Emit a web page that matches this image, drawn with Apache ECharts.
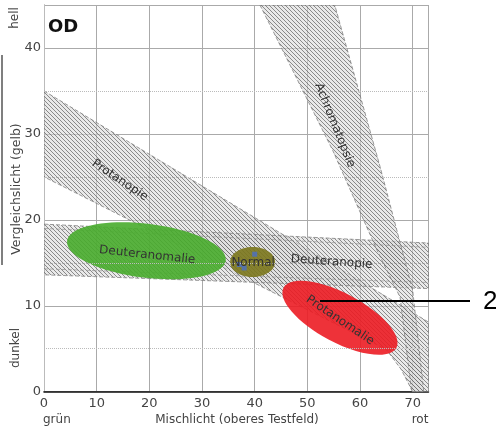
<!DOCTYPE html>
<html><head><meta charset="utf-8">
<script src="https://cdn.jsdelivr.net/npm/echarts@6/dist/echarts.min.js"></script>
<style>html,body{margin:0;padding:0;background:#fff}#c{width:496px;height:428px}</style>
</head><body><div id="c"></div>
<script>
// ---------- data ----------
const xTickLabels = [0, 10, 20, 30, 40, 50, 60, 70];
const yTickLabels = [0, 10, 20, 30, 40];
const yMinorLines = [5, 15, 25, 35];
const xRange = [0, 73];
const yRange = [0, 45];

const bandNames = ['Protanopie', 'Deuteranopie', 'Achromatopsie'];
const protanopieBand = [[0, 35], [73, 8.1], [73, 0], [70, 0], [67.8, 2.6], [65, 4.9], [0, 25]];
const deuteranopieBand = [[0, 19.5], [73, 17.3], [73, 12.0], [0, 13.6]];
const deuteranopieInnerTop = [[0, 19.0], [73, 16.8]];
const deuteranopieInnerBottom = [[0, 14.3], [73, 12.7]];
const achromatopsieBand = [[41, 45], [54.8, 28.1], [63.2, 16.5], [67.6, 11], [69.8, 0], [72.1, 0], [70, 11.8], [63.8, 26.2], [55.2, 45]];

const ellipseNames = ['Deuteranomalie', 'Normal', 'Protanomalie'];
const ellipseCenterX = [19.45, 39.6, 56.2];
const ellipseCenterY = [16.4, 15.1, 8.6];
const ellipseAxisDX = [15.07, 4.27, 10.72];
const ellipseAxisDY = [-1.13, 0, -3.49];

const normalPointsX = [40.0, 37.1, 38.0];
const normalPointsY = [16.0, 14.8, 14.4];

const labelTexts = ['Protanopie', 'Achromatopsie', 'Deuteranomalie', 'Normal', 'Deuteranopie', 'Protanomalie'];
const labelX = [14.4, 55.2, 19.6, 39.7, 54.6, 56.2];
const labelY = [24.6, 31.0, 15.9, 15.0, 15.1, 8.3];

// ---------- styles ----------
const bands = [protanopieBand, deuteranopieBand, achromatopsieBand];
const innerLines = [deuteranopieInnerTop, deuteranopieInnerBottom];
const ellipseMinorPx = [27, 15, 24.5];
const ellipseColors = ['rgba(72,172,44,0.9)', 'rgba(125,120,32,0.92)', 'rgba(236,28,36,0.9)'];
const labelRotDeg = [33.7, 68, 6, 0, 4, 34];
const FONT = '"DejaVu Sans", Verdana, sans-serif';

function hatch() {
  const s = 4, c = document.createElement('canvas');
  c.width = s; c.height = s;
  const g = c.getContext('2d');
  g.fillStyle = 'rgba(215,215,215,0.55)';
  g.fillRect(0, 0, s, s);
  g.strokeStyle = 'rgba(80,80,80,0.7)';
  g.lineWidth = 0.9;
  g.beginPath();
  g.moveTo(0, 0); g.lineTo(s, s);
  g.moveTo(s - 1, -1); g.lineTo(s + 1, 1);
  g.moveTo(-1, s - 1); g.lineTo(1, s + 1);
  g.stroke();
  return c;
}
const pattern = { image: hatch(), repeat: 'repeat' };

const chart = echarts.init(document.getElementById('c'), null, { renderer: 'canvas' });
const tickFmt = arr => v => (arr.indexOf(v) >= 0 ? String(v) : '');

const option = {
  animation: false,
  backgroundColor: '#fff',
  grid: { left: 44, top: 5, right: 67.5, bottom: 36.3, containLabel: false, outerBoundsMode: 'none' },
  xAxis: [{
    type: 'value', min: xRange[0], max: xRange[1], interval: 10,
    axisLine: { show: true, lineStyle: { color: '#999' } },
    axisTick: { show: false },
    axisLabel: { color: '#444', fontSize: 13, fontFamily: FONT, margin: 5, formatter: tickFmt(xTickLabels) },
    splitLine: { show: true, lineStyle: { color: '#aaa', width: 1 } }
  }, {
    type: 'value', position: 'top', min: xRange[0], max: xRange[1],
    axisLine: { show: true, lineStyle: { color: '#111', width: 1.5 } },
    axisTick: { show: false }, axisLabel: { show: false }, splitLine: { show: false }
  }],
  yAxis: [{
    type: 'value', min: yRange[0], max: yRange[1], interval: 10,
    axisLine: { show: true, lineStyle: { color: '#999' } },
    axisTick: { show: false },
    axisLabel: { color: '#444', fontSize: 13, fontFamily: FONT, margin: 3, formatter: tickFmt(yTickLabels) },
    splitLine: { show: true, lineStyle: { color: '#aaa', width: 1 } }
  }, {
    type: 'value', position: 'right', min: yRange[0], max: yRange[1],
    axisLine: { show: true, lineStyle: { color: '#bbb' } },
    axisTick: { show: false }, axisLabel: { show: false }, splitLine: { show: false }
  }],
  series: [
    {
      type: 'line', data: [], z: 1, silent: true,
      markLine: {
        symbol: 'none', silent: true, animation: false, label: { show: false },
        lineStyle: { type: 'dotted', color: '#bbb', width: 1 },
        data: yMinorLines.map(v => ({ yAxis: v }))
      }
    },
    {
      type: 'custom', z: 2, silent: true, clip: true,
      data: bandNames.map((n, i) => [i, 0]),
      renderItem: (params, api) => {
        const pts = bands[api.value(0)].map(p => api.coord(p));
        return {
          type: 'polygon', shape: { points: pts },
          style: { fill: pattern, stroke: '#808080', lineWidth: 0.8, lineDash: [4, 2] }
        };
      }
    },
    {
      type: 'custom', z: 2, silent: true, clip: true,
      data: innerLines.map((l, i) => [i, 0]),
      renderItem: (params, api) => {
        const pts = innerLines[api.value(0)].map(p => api.coord(p));
        return {
          type: 'polyline', shape: { points: pts },
          style: { fill: null, stroke: '#909090', lineWidth: 0.7, lineDash: [4, 2] }
        };
      }
    },
    {
      type: 'custom', z: 3, silent: true, clip: true,
      data: ellipseNames.map((n, i) => [ellipseCenterX[i], ellipseCenterY[i], ellipseAxisDX[i], ellipseAxisDY[i], i]),
      renderItem: (params, api) => {
        const cx = api.value(0), cy = api.value(1), dx = api.value(2), dy = api.value(3), i = api.value(4);
        const c = api.coord([cx, cy]);
        const e = api.coord([cx + dx, cy + dy]);
        const a = Math.hypot(e[0] - c[0], e[1] - c[1]);
        const ang = Math.atan2(e[1] - c[1], e[0] - c[0]);
        return {
          type: 'ellipse', x: c[0], y: c[1], rotation: -ang,
          shape: { cx: 0, cy: 0, rx: a, ry: ellipseMinorPx[i] },
          style: { fill: ellipseColors[i] }
        };
      }
    },
    {
      type: 'scatter', z: 4, silent: true, symbol: 'rect', symbolSize: 5,
      itemStyle: { color: '#4a6fc8' },
      data: normalPointsX.map((x, i) => [x, normalPointsY[i]])
    },
    {
      type: 'custom', z: 5, silent: true, clip: false,
      data: labelTexts.map((t, i) => [labelX[i], labelY[i], i]),
      renderItem: (params, api) => {
        const i = api.value(2);
        const p = api.coord([api.value(0), api.value(1)]);
        return {
          type: 'text', x: p[0], y: p[1], rotation: -labelRotDeg[i] * Math.PI / 180,
          style: {
            text: labelTexts[i], fill: '#333', fontSize: 12, fontFamily: FONT,
            align: 'center', verticalAlign: 'middle', textAlign: 'center', textVerticalAlign: 'middle'
          }
        };
      }
    }
  ],
  graphic: [
    { type: 'text', z: 100, x: 48, y: 27, style: { text: 'OD', fill: '#111', font: 'bold 18px ' + FONT, textAlign: 'left', textVerticalAlign: 'middle', align: 'left', verticalAlign: 'middle' } },
    { type: 'text', z: 100, x: 15, y: 18, rotation: Math.PI / 2, style: { text: 'hell', fill: '#444', font: '12px ' + FONT, textAlign: 'center', textVerticalAlign: 'middle', align: 'center', verticalAlign: 'middle' } },
    { type: 'text', z: 100, x: 17, y: 189, rotation: Math.PI / 2, style: { text: 'Vergleichslicht (gelb)', fill: '#444', font: '12.5px ' + FONT, textAlign: 'center', textVerticalAlign: 'middle', align: 'center', verticalAlign: 'middle' } },
    { type: 'text', z: 100, x: 16, y: 348, rotation: Math.PI / 2, style: { text: 'dunkel', fill: '#444', font: '12px ' + FONT, textAlign: 'center', textVerticalAlign: 'middle', align: 'center', verticalAlign: 'middle' } },
    { type: 'text', z: 100, x: 43, y: 420, style: { text: 'grün', fill: '#444', font: '12px ' + FONT, textAlign: 'left', textVerticalAlign: 'middle', align: 'left', verticalAlign: 'middle' } },
    { type: 'text', z: 100, x: 237, y: 420, style: { text: 'Mischlicht (oberes Testfeld)', fill: '#444', font: '12px ' + FONT, textAlign: 'center', textVerticalAlign: 'middle', align: 'center', verticalAlign: 'middle' } },
    { type: 'text', z: 100, x: 420, y: 420, style: { text: 'rot', fill: '#444', font: '12px ' + FONT, textAlign: 'center', textVerticalAlign: 'middle', align: 'center', verticalAlign: 'middle' } },
    { type: 'line', z: 100, shape: { x1: 2, y1: 55, x2: 2, y2: 265 }, style: { stroke: '#555', lineWidth: 1.5 } },
    { type: 'line', z: 100, shape: { x1: 320, y1: 301, x2: 470, y2: 301 }, style: { stroke: '#000', lineWidth: 2 } },
    { type: 'text', z: 100, x: 483, y: 302, style: { text: '2', fill: '#000', font: '26px "Liberation Sans", Arial, sans-serif', textAlign: 'left', textVerticalAlign: 'middle', align: 'left', verticalAlign: 'middle' } }
  ]
};
chart.setOption(option);
</script></body></html>
